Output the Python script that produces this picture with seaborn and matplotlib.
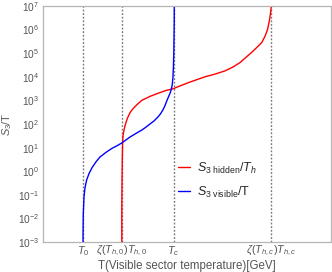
import matplotlib
matplotlib.use("Agg")
import matplotlib.pyplot as plt
import pandas as pd
import seaborn as sns

# values (x in arbitrary GeV units, y = S3/T)
blue_T = [1.0, 1.0025, 1.0075, 1.025, 1.05, 1.0925, 1.15, 1.225, 1.325, 1.425,
          1.575, 1.725, 1.875, 1.975, 2.175, 2.325, 2.475, 2.575, 2.675, 2.775,
          2.875, 2.9375, 3.0, 3.05, 3.1, 3.1375, 3.175, 3.205, 3.23, 3.2475,
          3.26, 3.27, 3.275, 3.28, 3.2825]
blue_S = [1e-3, 3.2e-3, 1.6e-2, 7.9e-2, 0.2, 0.43, 0.79, 1.4, 2.5, 4.0,
          6.3, 9.3, 12.6, 16, 28, 40, 56, 74, 100, 135,
          200, 270, 400, 603, 1000, 1410, 2000, 2820, 4470, 8910,
          2.5e4, 1e5, 4e5, 2e6, 1e7]

red_T = [1.97, 1.97, 1.975, 1.9825, 1.99, 2.0, 2.025, 2.0625, 2.1125, 2.175,
         2.25, 2.35, 2.4675, 2.675, 2.875, 3.075, 3.2625, 3.45, 3.675, 4.05,
         4.3, 4.55, 4.75, 4.925, 5.0925, 5.225, 5.35, 5.4675, 5.55, 5.6125,
         5.6625, 5.6925, 5.7075]
red_S = [1e-3, 3.2e-2, 0.32, 3.2, 16, 32, 56, 100, 178, 302,
         447, 661, 1000, 1480, 2000, 2630, 3160, 4270, 6000, 1e4,
         1.3e4, 1.78e4, 2.6e4, 4.0e4, 7.1e4, 1.12e5, 1.78e5, 2.8e5, 5.2e5, 1e6,
         2.5e6, 5.6e6, 1e7]

vlines = [1.0, 1.975, 3.2625, 5.71]
vline_labels = [r"$T_0$", r"$\zeta(T_{h,0})T_{h,0}$", r"$T_c$", r"$\zeta(T_{h,c})T_{h,c}$"]

sns.set_style("white")
plt.rcParams["font.family"] = ["Liberation Sans", "DejaVu Sans"]
plt.rcParams["mathtext.fontset"] = "custom"
plt.rcParams["mathtext.rm"] = "Liberation Sans"
plt.rcParams["mathtext.it"] = "Liberation Sans:style=italic"
plt.rcParams["mathtext.bf"] = "Liberation Sans:weight=bold"

df = pd.concat([
    pd.DataFrame({"T": red_T, "S": red_S, "curve": "hidden"}),
    pd.DataFrame({"T": blue_T, "S": blue_S, "curve": "visible"}),
])

fig = plt.figure(figsize=(3.32, 2.72), dpi=100)
ax = fig.add_axes([43 / 332, 30 / 272, 288 / 332, 236 / 272])

for x in vlines:
    ax.axvline(x, color="#777777", lw=1.0, ls=(0, (1.3, 1.3)), zorder=1)

sns.lineplot(data=df, x="T", y="S", hue="curve", sort=False, estimator=None,
             palette={"hidden": "#ff0000", "visible": "#0000ff"}, lw=1.0, ax=ax)

ax.set_yscale("log")
ax.set_xlim(0, 7.2)
ax.set_ylim(1e-3, 1e7)
ax.set_yticks([10.0 ** k for k in range(-3, 8)])
ax.minorticks_off()
ax.set_xticks(vlines)
ax.set_xticklabels(vline_labels)

for s in ax.spines.values():
    s.set_color("#b5b5b5")
    s.set_linewidth(0.9)
ax.tick_params(axis="both", labelsize=7.3, colors="#b5b5b5", labelcolor="#555555",
               direction="in", length=2, width=0.7, pad=3)
ax.tick_params(axis="x", length=0, pad=1.5, labelsize=7.8)

ax.set_xlabel("T(Visible sector temperature)[GeV]", fontsize=8.3, color="#555555", labelpad=1)
ax.set_ylabel(r"$S_3$/T", fontsize=7.8, color="#555555", labelpad=3)

handles, _ = ax.get_legend_handles_labels()
ax.legend(handles, [r"$S_{3\ \mathrm{hidden}}/T_h$", r"$S_{3\ \mathrm{visible}}$/T"],
          loc="center left", bbox_to_anchor=(0.47, 0.262), frameon=False,
          fontsize=9, handlelength=0.95, handletextpad=0.55, labelspacing=0.7,
          borderpad=0, borderaxespad=0)

fig.savefig("out.png", dpi=100)
